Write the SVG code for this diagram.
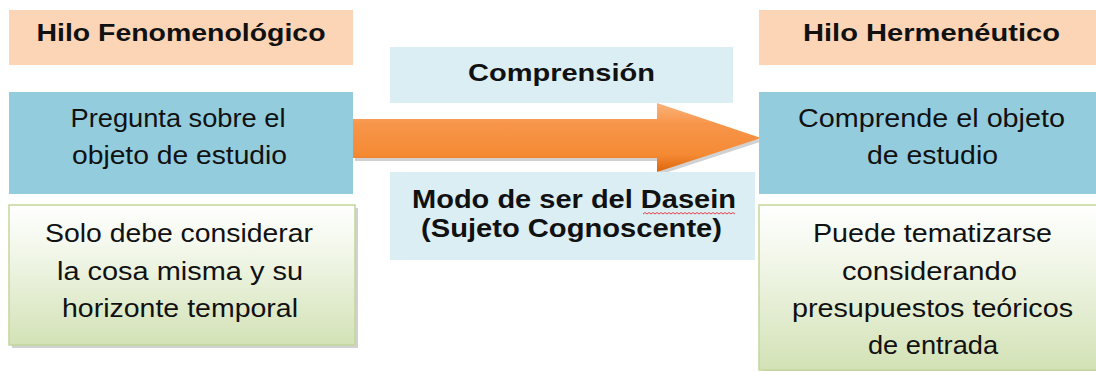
<svg xmlns="http://www.w3.org/2000/svg" width="1096" height="371" viewBox="0 0 1096 371">
<defs>
<style>
.peach{fill:#fbd5b5}
.blue{fill:#93cddd}
.lblue{fill:#dbeef4}
.green{fill:url(#gg);stroke:#c3d69b;stroke-width:1.5}
.shadow{fill:#000;opacity:0.18}
.h{font-family:"Liberation Sans",Arial,sans-serif;font-weight:bold;font-size:24px;fill:#111;text-anchor:middle}
.hb{font-family:"Liberation Sans",Arial,sans-serif;font-weight:bold;font-size:26px;fill:#111;text-anchor:middle}
.t{font-family:"Liberation Sans",Arial,sans-serif;font-size:26px;fill:#111;text-anchor:middle}
</style>
<linearGradient id="gg" x1="0" y1="0" x2="0" y2="1">
<stop offset="0" stop-color="#ffffff"/>
<stop offset="0.35" stop-color="#f1f6e8"/>
<stop offset="1" stop-color="#d3e2b6"/>
</linearGradient>
<linearGradient id="ag" x1="0" y1="0" x2="0" y2="1">
<stop offset="0" stop-color="#fbb47c"/>
<stop offset="0.3" stop-color="#f7954a"/>
<stop offset="0.75" stop-color="#f58a34"/>
<stop offset="1" stop-color="#dc650a"/>
</linearGradient>
</defs>

<g id="connectors">
<polygon class="shadow" points="355,122 659,122 659,106 763,141 659,175 659,161 355,161"/>
<polygon fill="url(#ag)" points="353,119 657,119 657,103 761,138 657,172 657,158 353,158"/>
</g>

<g id="hilo-fenomenologico">
<rect class="peach" x="9" y="10" width="344" height="55"/>
<text class="h" x="181" y="41" textLength="289" lengthAdjust="spacingAndGlyphs">Hilo Fenomenológico</text>
</g>

<g id="pregunta">
<rect class="blue" x="9" y="92" width="344" height="102"/>
<text class="t" x="178" y="127" textLength="215" lengthAdjust="spacingAndGlyphs">Pregunta sobre el</text>
<text class="t" x="179.5" y="164" textLength="215" lengthAdjust="spacingAndGlyphs">objeto de estudio</text>
</g>

<g id="solo-debe">
<rect class="shadow" x="12" y="208" width="346" height="140"/>
<rect class="green" x="9" y="205" width="346" height="140"/>
<text class="t" x="179" y="242" textLength="268" lengthAdjust="spacingAndGlyphs">Solo debe considerar</text>
<text class="t" x="180" y="280" textLength="246" lengthAdjust="spacingAndGlyphs">la cosa misma y su</text>
<text class="t" x="180" y="317" textLength="236" lengthAdjust="spacingAndGlyphs">horizonte temporal</text>
</g>

<g id="comprension">
<rect class="lblue" x="390" y="47" width="343" height="56"/>
<text class="h" x="561.5" y="81" textLength="187" lengthAdjust="spacingAndGlyphs">Comprensión</text>
</g>

<g id="modo-de-ser">
<rect class="lblue" x="390" y="172" width="365" height="88"/>
<text class="hb" x="574" y="208" textLength="324" lengthAdjust="spacingAndGlyphs">Modo de ser del Dasein</text>
<text class="hb" x="571.5" y="237" textLength="301" lengthAdjust="spacingAndGlyphs">(Sujeto Cognoscente)</text>
<path d="M643,214 l2,-1.5 l2,1.5 l2,-1.5 l2,1.5 l2,-1.5 l2,1.5 l2,-1.5 l2,1.5 l2,-1.5 l2,1.5 l2,-1.5 l2,1.5 l2,-1.5 l2,1.5 l2,-1.5 l2,1.5 l2,-1.5 l2,1.5 l2,-1.5 l2,1.5 l2,-1.5 l2,1.5 l2,-1.5 l2,1.5 l2,-1.5 l2,1.5 l2,-1.5 l2,1.5 l2,-1.5 l2,1.5 l2,-1.5 l2,1.5 l2,-1.5 l2,1.5 l2,-1.5 l2,1.5 l2,-1.5 l2,1.5 l2,-1.5 l2,1.5 l2,-1.5 l2,1.5 l2,-1.5 l2,1.5 l2,-1.5 l2,1.5" fill="none" stroke="#e03030" stroke-width="0.9"/>
</g>

<g id="hilo-hermeneutico">
<rect class="peach" x="759" y="10" width="345" height="55"/>
<text class="h" x="931.5" y="41" textLength="257" lengthAdjust="spacingAndGlyphs">Hilo Hermenéutico</text>
</g>

<g id="comprende">
<rect class="blue" x="759" y="92" width="345" height="102"/>
<text class="t" x="931.5" y="127" textLength="267" lengthAdjust="spacingAndGlyphs">Comprende el objeto</text>
<text class="t" x="932.5" y="164" textLength="131" lengthAdjust="spacingAndGlyphs">de estudio</text>
</g>

<g id="puede-tematizarse">
<rect class="shadow" x="762" y="208" width="346" height="166"/>
<rect class="green" x="759" y="205" width="346" height="165"/>
<text class="t" x="932.5" y="242" textLength="239" lengthAdjust="spacingAndGlyphs">Puede tematizarse</text>
<text class="t" x="929.5" y="280" textLength="175" lengthAdjust="spacingAndGlyphs">considerando</text>
<text class="t" x="932.5" y="317" textLength="281" lengthAdjust="spacingAndGlyphs">presupuestos teóricos</text>
<text class="t" x="933" y="354" textLength="130" lengthAdjust="spacingAndGlyphs">de entrada</text>
</g>
</svg>
